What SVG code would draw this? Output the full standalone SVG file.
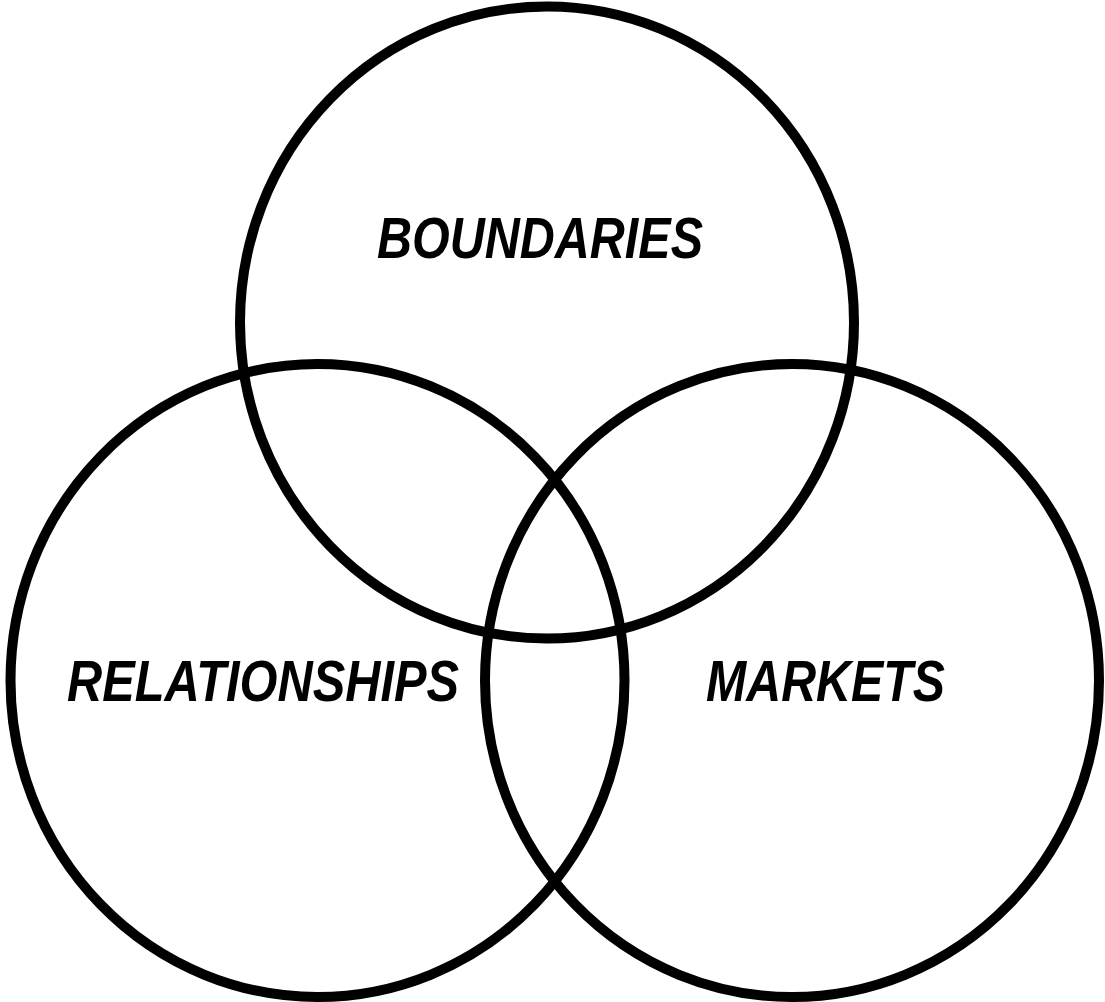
<svg xmlns="http://www.w3.org/2000/svg" width="1105" height="1002" viewBox="0 0 1105 1002">
  <style>
    .ring { fill: none; stroke: #000; stroke-width: 10; }
    .label { font-family: "Liberation Sans", Arial, sans-serif; font-weight: bold; font-style: italic; font-size: 57px; fill: #000; }
  </style>
  <rect width="1105" height="1002" fill="#fff"/>
  <g id="boundaries">
    <ellipse class="ring" cx="547" cy="322.5" rx="307" ry="316"/>
    <text class="label" x="377" y="258" textLength="326" lengthAdjust="spacingAndGlyphs">BOUNDARIES</text>
  </g>
  <g id="relationships">
    <ellipse class="ring" cx="317.5" cy="680.5" rx="307" ry="316.5"/>
    <text class="label" x="67" y="701" textLength="392" lengthAdjust="spacingAndGlyphs">RELATIONSHIPS</text>
  </g>
  <g id="markets">
    <ellipse class="ring" cx="792" cy="680.5" rx="307" ry="316.5"/>
    <text class="label" x="706" y="701" textLength="239" lengthAdjust="spacingAndGlyphs">MARKETS</text>
  </g>
  <g id="connectors"/>
</svg>
